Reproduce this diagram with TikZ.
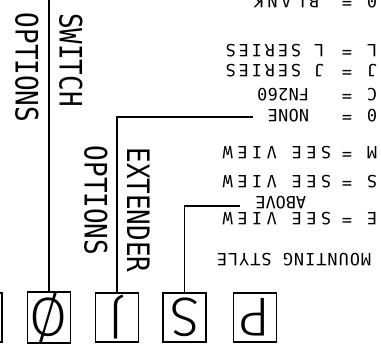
\documentclass[tikz,border=0pt]{standalone}
\usepackage{fontspec}
\usetikzlibrary{positioning}
\newfontfamily\cadfont{DejaVu Sans Mono}
\newfontfamily\cadtall[FakeStretch=0.84]{DejaVu Sans Mono}
\IfFontExistsTF{Fira Sans Light}
  {\newfontfamily\cadbox{Fira Sans Light}}
  {\IfFontExistsTF{DejaVu Sans ExtraLight}
    {\newfontfamily\cadbox{DejaVu Sans ExtraLight}}
    {\newfontfamily\cadbox{DejaVu Sans Mono}}}
\newcommand{\flip}[1]{\rotatebox[origin=c]{180}{#1}}

\begin{document}
\begin{tikzpicture}[
      x=0.025cm, y=-0.025cm, line width=1.1pt,
      every node/.style={inner sep=0pt},
      selbox/.style={draw, minimum width=1.075cm, minimum height=1.225cm, font=\fontsize{39}{41}\cadbox},
      optlabel/.style={rotate=-90, font=\fontsize{22}{24}\cadtall},
      listtext/.style={rotate=180, anchor=west, font={\fontsize{12}{14}\cadfont\addfontfeature{LetterSpace=#1}}},
      listtext/.default=0,
    ]
    \clip (0,0) rectangle (381,354);

    % Selector boxes
    \node[selbox] (boxP) at (255,317.5) {\flip{P}};
    \node[selbox] (boxMount) at (184.5,317.5) {\flip{S}};
    \node[selbox] (boxExt) at (117,317.5) {\flip{J}};
    \node[selbox] (boxSwitch) at (49,317.5) {\flip{Ø}};
    \node[selbox] (boxNext) at (-19.5,317.5) {};

    % Option labels
    \node[optlabel] (swLabel) at (71,60) {SWITCH};
    \node[optlabel] (swOpt) at (27,67.5) {OPTIONS};
    \node[optlabel] (extLabel) at (138.5,210) {EXTENDER};
    \node[optlabel] (extOpt) at (96,200.5) {OPTIONS};

    % Code list
    \foreach \code/\desc/\yy/\xd/\ls [count=\i] in {
        0/BLANK/2/320/22, L/L SERIES/51/325/17, J/J SERIES/71/325/17,
        C/FN260/95/310/2, 0/NONE/116/310/2, M/SEE VIEW/153/332/27,
        S/SEE VIEW/182/332/27, E/SEE VIEW/219/332/27}{
      \node[listtext] (code\i) at (378,\yy) {\code};
      \node[listtext, anchor=center] (eq\i) at (347,\yy) {=};
      \node[listtext=\ls] (desc\i) at (\xd,\yy) {\desc};
    }
    \node[listtext] (above) at (307,203) {ABOVE};
    \node[listtext=6] (mountHead) at (372,260) {MOUNTING STYLE};

    % Leaders
    \coordinate (swTop) at (49,0);
    \coordinate (extEnd) at (253,117);
    \coordinate (mountEnd) at (240,206);
    \draw (boxSwitch.north) -- (swTop);
    \draw (boxExt.north) |- (extEnd);
    \draw (boxMount.north) |- (mountEnd);
  \end{tikzpicture}
\end{document}
